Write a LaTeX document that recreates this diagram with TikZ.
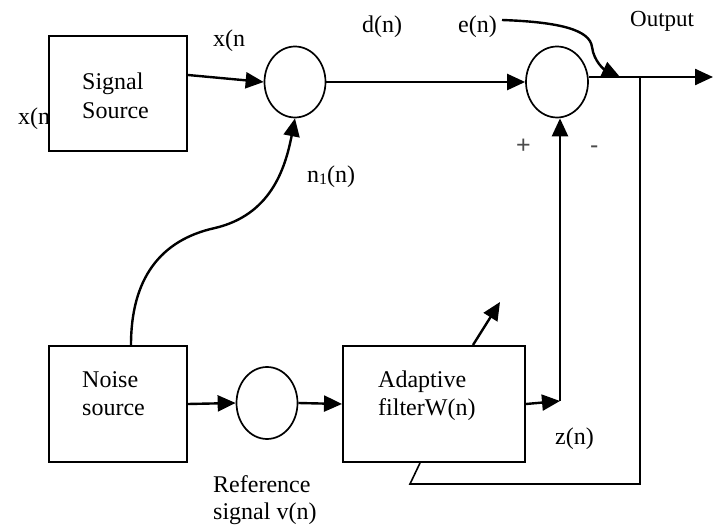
\documentclass[tikz,border=0pt]{standalone}
\usepackage{fontspec}
\setmainfont{Liberation Serif}
\newfontfamily\pmfont{Liberation Sans}
\usetikzlibrary{arrows.meta,shapes.geometric}
\tikzset{
  blk/.style={draw, line width=2pt, inner sep=0pt},
  sumc/.style={ellipse, draw, line width=1.7pt, minimum width=61pt, minimum height=71pt, inner sep=0pt},
  arr/.style={line width=2.4pt, -{Triangle[length=18pt,width=16pt]}},
  thinln/.style={line width=1.6pt},
  lbl/.style={anchor=base west, inner sep=0pt, font=\fontsize{24}{28}\selectfont},
  pm/.style={anchor=base west, inner sep=0pt, text=black!70, font=\pmfont\fontsize{25}{26}\selectfont},
}
\begin{document}
\begin{tikzpicture}[x=1pt,y=-1pt]
\useasboundingbox (0,0) rectangle (718,526);
% blocks
\node[blk, minimum width=138pt, minimum height=115pt] (ss) at (118,93.5) {};
\node[blk, minimum width=138pt, minimum height=116pt] (ns) at (118,404) {};
\node[blk, minimum width=182pt, minimum height=116pt] (af) at (434,404) {};
\node[sumc] (c1) at (295,82) {};
\node[sumc, minimum width=62pt] (c2) at (557,82) {};
\node[sumc, minimum height=72pt] (c3) at (267,403) {};
% texts
\node[lbl] (t1) at (82,90) {Signal};
\node[lbl] (t2) at (82,119) {Source};
\node[lbl] (t3) at (82,388) {Noise};
\node[lbl] (t4) at (82,416) {source};
\node[lbl] (t5) at (378,388) {Adaptive};
\node[lbl] (t6) at (378,416) {filterW(n)};
\node[lbl] (t7) at (213,493) {Reference};
\node[lbl] (t8) at (213,520) {signal v(n)};
\node[lbl] (xa) at (213,47) {x(n};
\node[lbl] (xb) at (18,125) {x(n};
\node[lbl] (n1) at (307,183) {n\raisebox{-1.5pt}{\fontsize{16}{16}\selectfont 1}(n)};
\node[lbl] (dn) at (362,33) {d(n)};
\node[lbl] (en) at (458,33) {e(n)};
\node[lbl, font=\fontsize{23}{26}\selectfont] (op) at (630,27) {Output};
\node[lbl] (zn) at (555,445) {z(n)};
\node[pm] (plus) at (516,154) {+};
\node[pm] (minus) at (590,154) {-};
% coordinates
\coordinate (outend) at (713,77);
\coordinate (fb) at (640,77);
\coordinate (fbc) at (640,484);
\coordinate (fbl) at (410,484);
\coordinate (zj) at (560,401);
\coordinate (adp) at (500,302);
\coordinate (estart) at (502,20);
\coordinate (etip) at (620,77);
% connectors
\draw[arr] ([yshift=18.5pt]ss.east) -- (c1.west);
\draw[arr] (c1.east) -- (c2.west);
\draw[arr] ([yshift=5pt]c2.east) -- (outend);
\draw[arr] (ns.north west) ++(83,0) .. controls +(0,-66) and (160,240) .. (215,228) .. controls (270,215) and (285,170) .. (c1.south);
\draw[arr] (ns.east) -- (c3.west);
\draw[arr] (c3.east) -- (af.west);
\draw[arr] (af.east) -- (zj);
\draw[arr] (zj) -- (zj |- c2.south);
\draw[arr] ([xshift=39pt]af.north) -- (adp);
\draw[arr] (estart) .. controls (560,22) and (590,30) .. (592,47) .. controls (594,62) and (605,70) .. (etip);
\draw[thinln] (fb) -- (fbc) -- (fbl) -- ([xshift=-14pt]af.south);
\end{tikzpicture}
\end{document}
